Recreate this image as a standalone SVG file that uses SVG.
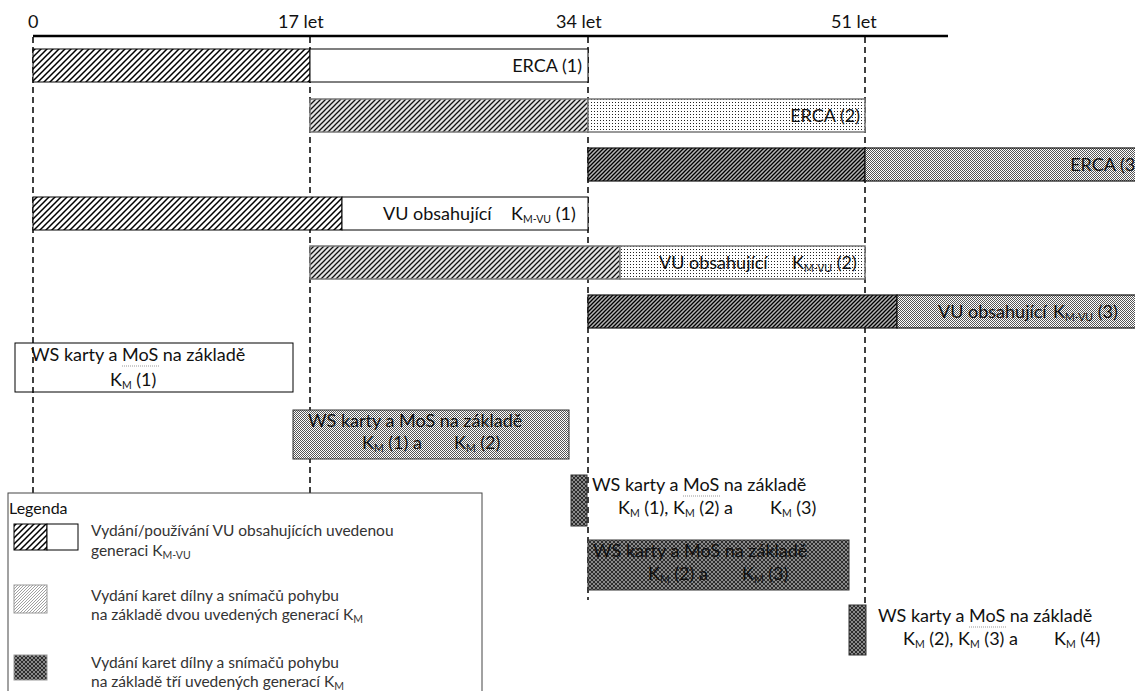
<svg xmlns="http://www.w3.org/2000/svg" width="1135" height="691" viewBox="0 0 1135 691">
<style>
text{font-family:Lato,"Liberation Sans",sans-serif;font-size:18px;fill:#111}
.lg{font-size:15.5px;fill:#333}
.sub{font-size:10.5px}
.ul{stroke:#999;stroke-width:1;stroke-dasharray:1 1}
.dash{stroke:#000;stroke-width:1.5;stroke-dasharray:6 4;fill:none}
.o1{stroke:#000;stroke-width:1}
.o2{stroke:#777;stroke-width:1.5}
.o3{stroke:#111;stroke-width:1.2}
</style>
<defs>
<pattern id="h1" width="6" height="6" patternUnits="userSpaceOnUse">
<rect width="6" height="6" fill="#fff"/>
<path d="M-1,7 L7,-1 M-1,1 L1,-1 M5,7 L7,5" stroke="#000" stroke-width="1.5"/>
</pattern>
<pattern id="h2" width="5" height="5" patternUnits="userSpaceOnUse">
<rect width="5" height="5" fill="#e2e2e2"/>
<path d="M-1,6 L6,-1 M-1,1 L1,-1 M4,6 L6,4" stroke="#111" stroke-width="1.3"/>
</pattern>
<pattern id="h3" width="4" height="4" patternUnits="userSpaceOnUse">
<rect width="4" height="4" fill="#b4b4b4"/>
<path d="M-1,5 L5,-1 M-1,1 L1,-1 M3,5 L5,3" stroke="#000" stroke-width="1.3"/>
</pattern>
<pattern id="hl" width="3" height="3" patternUnits="userSpaceOnUse">
<rect width="3" height="3" fill="#fff"/>
<path d="M-1,4 L4,-1 M-1,1 L1,-1 M2,4 L4,2" stroke="#888" stroke-width="0.8"/>
</pattern>
<pattern id="d1" width="3" height="3" patternUnits="userSpaceOnUse">
<rect width="3" height="3" fill="#fff"/>
<rect width="1" height="1" fill="#222"/>
</pattern>
<pattern id="d2" width="2" height="2" patternUnits="userSpaceOnUse">
<rect width="2" height="2" fill="#fff"/>
<rect width="1" height="1" fill="#555"/>
<rect x="1" y="1" width="1" height="1" fill="#555"/>
</pattern>
<pattern id="x1" width="4" height="4" patternUnits="userSpaceOnUse">
<rect width="4" height="4" fill="#8a8a8a"/>
<path d="M0,0 L4,4 M0,4 L4,0" stroke="#222" stroke-width="0.9"/>
</pattern>
</defs>

<g id="axis">
<line x1="33" y1="36" x2="948" y2="36" stroke="#000" stroke-width="2.5"/>
<text x="28" y="28">0</text>
<text x="278" y="28">17 let</text>
<text x="556" y="28">34 let</text>
<text x="831" y="28">51 let</text>
</g>

<g id="connectors">
<line class="dash" x1="33" y1="37" x2="33" y2="493"/>
<line class="dash" x1="310" y1="37" x2="310" y2="493"/>
<line class="dash" x1="588" y1="37" x2="588" y2="600"/>
<line class="dash" x1="865" y1="37" x2="865" y2="605"/>
</g>

<g id="erca1">
<rect class="o1" x="33" y="49" width="277" height="33" fill="url(#h1)"/>
<rect class="o1" x="310" y="49" width="278" height="33" fill="#fff"/>
<text x="582" y="72" text-anchor="end">ERCA (1)</text>
</g>
<g id="erca2">
<rect class="o2" x="310" y="99" width="278" height="33" fill="url(#h2)"/>
<rect class="o2" x="588" y="99" width="277" height="33" fill="url(#d1)"/>
<text x="860" y="122" text-anchor="end">ERCA (2)</text>
</g>
<g id="erca3">
<rect class="o3" x="588" y="148" width="277" height="33" fill="url(#h3)"/>
<rect class="o3" x="865" y="148" width="278" height="33" fill="url(#d2)"/>
<text x="1140" y="171" text-anchor="end">ERCA (3)</text>
</g>

<g id="vu1">
<rect class="o1" x="33" y="197" width="309" height="33" fill="url(#h1)"/>
<rect class="o1" x="342" y="197" width="246" height="33" fill="#fff"/>
<text x="383" y="220">VU obsahující</text>
<text x="511" y="220">K<tspan class="sub" dy="3">M-VU</tspan><tspan dy="-3"> (1)</tspan></text>
</g>
<g id="vu2">
<rect class="o2" x="310" y="246" width="310" height="33" fill="url(#h2)"/>
<rect class="o2" x="620" y="246" width="245" height="33" fill="url(#d1)"/>
<text x="659" y="269">VU obsahující</text>
<text x="792" y="269">K<tspan class="sub" dy="3">M-VU</tspan><tspan dy="-3"> (2)</tspan></text>
</g>
<g id="vu3">
<rect class="o3" x="588" y="295" width="309" height="33" fill="url(#h3)"/>
<rect class="o3" x="897" y="295" width="246" height="33" fill="url(#d2)"/>
<text x="938" y="318">VU obsahující</text>
<text x="1053" y="318">K<tspan class="sub" dy="3">M-VU</tspan><tspan dy="-3"> (3)</tspan></text>
</g>

<g id="ws1">
<rect x="15" y="343" width="278" height="49" fill="none" stroke="#000" stroke-width="1"/>
<text x="31" y="361">WS karty a MoS na základě</text>
<line class="ul" x1="122" y1="366" x2="159" y2="366"/>
<text x="110" y="386">K<tspan class="sub" dy="3">M</tspan><tspan dy="-3"> (1)</tspan></text>
</g>
<g id="ws2">
<rect x="293" y="410" width="276" height="49" fill="url(#d2)" stroke="#333" stroke-width="1"/>
<text x="308" y="427">WS karty a MoS na základě</text>
<text x="362" y="449">K<tspan class="sub" dy="3">M</tspan><tspan dy="-3"> (1) a</tspan></text>
<text x="454" y="449">K<tspan class="sub" dy="3">M</tspan><tspan dy="-3"> (2)</tspan></text>
</g>
<g id="ws3">
<rect x="571" y="475" width="16" height="51" fill="url(#x1)" stroke="#333" stroke-width="1"/>
<text x="592" y="491">WS karty a MoS na základě</text>
<line class="ul" x1="683" y1="496" x2="720" y2="496"/>
<text x="618" y="514">K<tspan class="sub" dy="3">M</tspan><tspan dy="-3"> (1), K</tspan><tspan class="sub" dy="3">M</tspan><tspan dy="-3"> (2) a</tspan></text>
<text x="770" y="514">K<tspan class="sub" dy="3">M</tspan><tspan dy="-3"> (3)</tspan></text>
</g>
<g id="ws4">
<rect x="588" y="540" width="261" height="50" fill="url(#x1)" stroke="#333" stroke-width="1"/>
<text x="593" y="557">WS karty a MoS na základě</text>
<text x="648" y="580">K<tspan class="sub" dy="3">M</tspan><tspan dy="-3"> (2) a</tspan></text>
<text x="742" y="580">K<tspan class="sub" dy="3">M</tspan><tspan dy="-3"> (3)</tspan></text>
</g>
<g id="ws5">
<rect x="849" y="605" width="17" height="50" fill="url(#x1)" stroke="#333" stroke-width="1"/>
<text x="878" y="622">WS karty a MoS na základě</text>
<line class="ul" x1="969" y1="627" x2="1006" y2="627"/>
<text x="903" y="645">K<tspan class="sub" dy="3">M</tspan><tspan dy="-3"> (2), K</tspan><tspan class="sub" dy="3">M</tspan><tspan dy="-3"> (3) a</tspan></text>
<text x="1054" y="645">K<tspan class="sub" dy="3">M</tspan><tspan dy="-3"> (4)</tspan></text>
</g>

<g id="legend">
<rect x="8" y="493" width="474" height="210" fill="#fff" stroke="#444" stroke-width="1"/>
<text x="9" y="514" style="font-size:16px">Legenda</text>
<rect x="14" y="524" width="33" height="26" fill="url(#h1)" stroke="#000" stroke-width="1"/>
<rect x="47" y="524" width="31" height="26" fill="#fff" stroke="#000" stroke-width="1"/>
<text class="lg" x="91" y="536">Vydání/používání VU obsahujících uvedenou</text>
<text class="lg" x="91" y="556">generaci K<tspan class="sub" dy="3">M-VU</tspan></text>
<rect x="14" y="585" width="33" height="28" fill="url(#hl)" stroke="#999" stroke-width="1"/>
<text class="lg" x="91" y="601">Vydání karet dílny a snímačů pohybu</text>
<text class="lg" x="91" y="620">na základě dvou uvedených generací K<tspan class="sub" dy="3">M</tspan></text>
<rect x="14" y="655" width="33" height="25" fill="url(#x1)" stroke="#999" stroke-width="1"/>
<text class="lg" x="91" y="668">Vydání karet dílny a snímačů pohybu</text>
<text class="lg" x="91" y="687">na základě tří uvedených generací K<tspan class="sub" dy="3">M</tspan></text>
</g>
</svg>
